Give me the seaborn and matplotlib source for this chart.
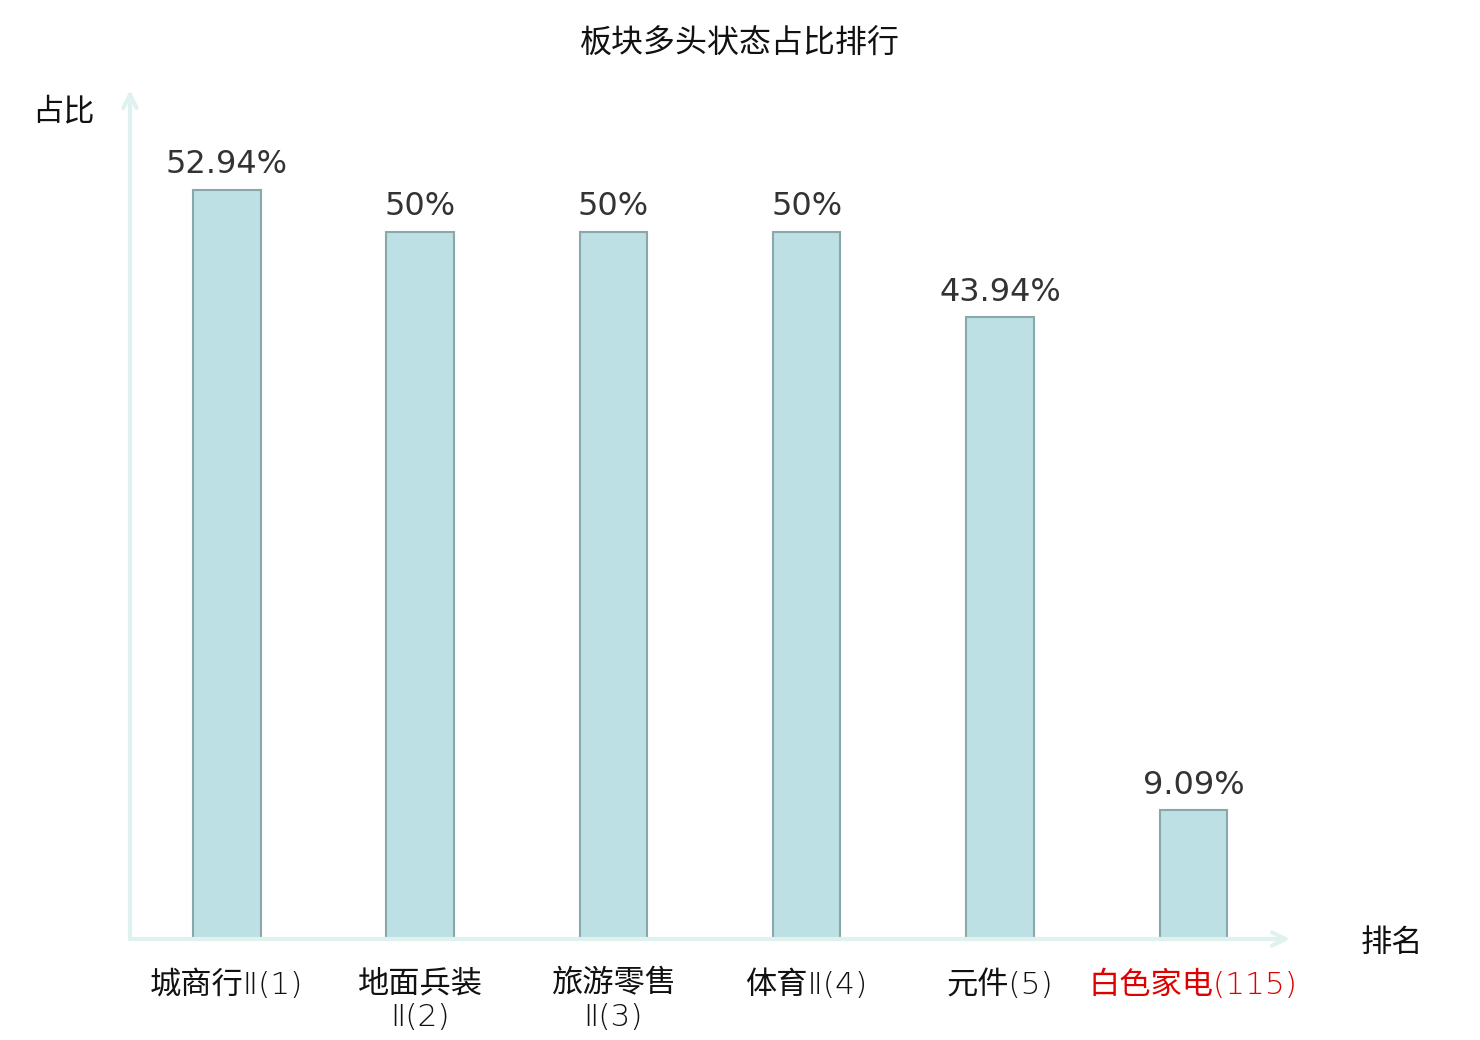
import matplotlib
matplotlib.use("Agg")
import matplotlib.pyplot as plt
import seaborn as sns
import pandas as pd

categories = ["城商行Ⅱ(1)", "地面兵装\nⅡ(2)", "旅游零售\nⅡ(3)", "体育Ⅱ(4)", "元件(5)", "白色家电(115)"]
values = [52.94, 50, 50, 50, 43.94, 9.09]
highlight = "白色家电(115)"

sns.set_theme(style="white")
plt.rcParams['font.family'] = ['Noto Sans CJK SC', 'DejaVu Sans']

df = pd.DataFrame({"cat": categories, "val": values})

fig = plt.figure(figsize=(14.8, 10.4), dpi=100)
ax = fig.add_axes([130/1480, 101/1040, 1160/1480, 849/1040])

sns.barplot(data=df, x="cat", y="val", ax=ax, width=0.35,
            color="#bce0e3", edgecolor="#8aa8a9", linewidth=1.5, saturation=1)

ax.set_xlim(-0.5, 5.5)
ax.set_ylim(0, 60)
for s in ax.spines.values():
    s.set_visible(False)
ax.set_yticks([])
ax.set_xlabel("")
ax.set_ylabel("")
ax.tick_params(axis="x", length=0, pad=22)
for lbl in ax.get_xticklabels():
    lbl.set_fontsize(22.5)
    lbl.set_family(['DejaVu Sans', 'Noto Sans CJK SC'])
    lbl.set_fontweight('light')
    lbl.set_linespacing(1.2)
    lbl.set_color("#e00000" if lbl.get_text() == highlight else "#111111")

# axis arrows
axis_col = "#dff2ef"
arrow = dict(arrowstyle="->,head_length=0.8,head_width=0.4", color=axis_col, lw=3,
             shrinkA=0, shrinkB=0)
ax.annotate("", xy=(1.0, 0), xytext=(0, 0), xycoords="axes fraction",
            arrowprops=arrow, annotation_clip=False)
ax.annotate("", xy=(0, 1.0), xytext=(0, 0), xycoords="axes fraction",
            arrowprops=arrow, annotation_clip=False)

labels = [f"{v:g}%" for v in values]
ax.bar_label(ax.containers[0], labels=labels, padding=7, fontsize=23,
             color="#333333", family=["DejaVu Sans"])

fig.text(740/1480, 1 - 44/1040, "板块多头状态占比排行", ha="center", va="center",
         fontsize=23, color="#111111")
fig.text(63/1480, 1 - 111/1040, "占比", ha="center", va="center", fontsize=22.5, color="#111111")
fig.text(1392/1480, 1 - 943/1040, "排名", ha="center", va="center", fontsize=22.5, color="#111111")

fig.savefig("out.png", dpi=100)
